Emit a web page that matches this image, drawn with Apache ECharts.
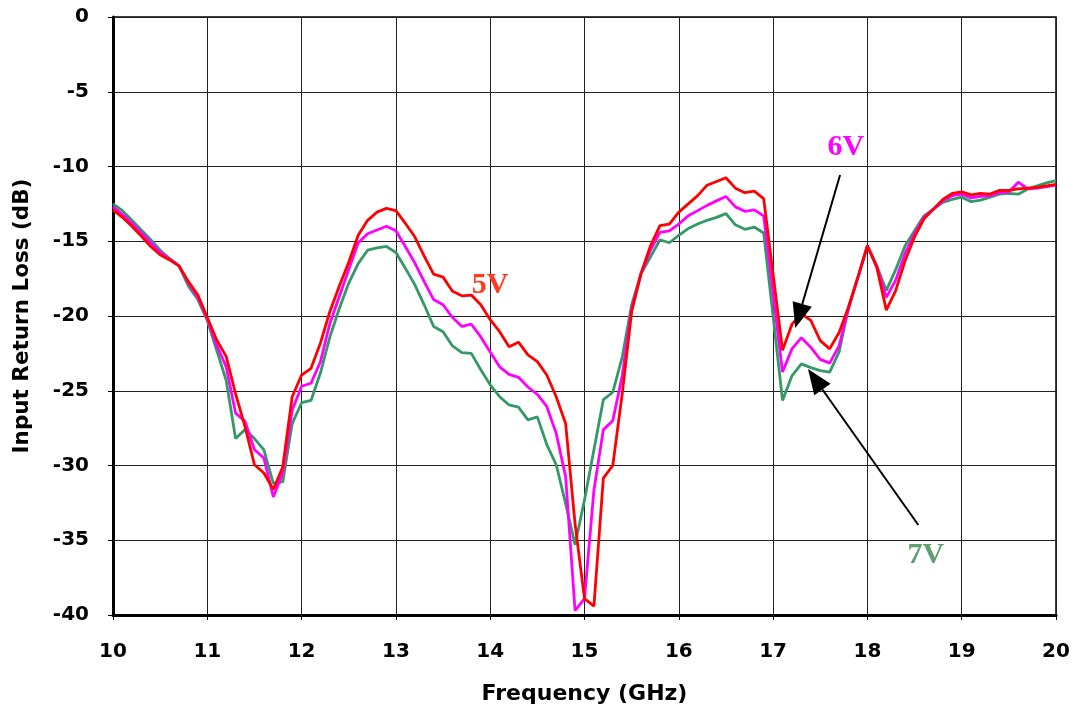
<!DOCTYPE html>
<html>
<head>
<meta charset="utf-8">
<script src="https://cdn.jsdelivr.net/npm/echarts@6/dist/echarts.min.js"></script>
<style>
html,body{margin:0;padding:0;background:#fff;}
#chart{width:1073px;height:713px;}
</style>
</head>
<body>
<div id="chart"></div>
<script>
const freq = [10.0,10.1,10.2,10.3,10.4,10.5,10.6,10.7,10.8,10.9,
11.0,11.1,11.2,11.3,11.4,11.5,11.6,11.7,11.8,11.9,
12.0,12.1,12.2,12.3,12.4,12.5,12.6,12.7,12.8,12.9,
13.0,13.1,13.2,13.3,13.4,13.5,13.6,13.7,13.8,13.9,
14.0,14.1,14.2,14.3,14.4,14.5,14.6,14.7,14.8,14.9,
15.0,15.1,15.2,15.3,15.4,15.5,15.6,15.7,15.8,15.9,
16.0,16.1,16.2,16.3,16.4,16.5,16.6,16.7,16.8,16.9,
17.0,17.1,17.2,17.3,17.4,17.5,17.6,17.7,17.8,17.9,
18.0,18.1,18.2,18.3,18.4,18.5,18.6,18.7,18.8,18.9,
19.0,19.1,19.2,19.3,19.4,19.5,19.6,19.7,19.8,19.9,20.0];

const rl5V = [-12.9,-13.4,-14.0,-14.65,-15.35,-15.9,-16.25,-16.65,-17.7,-18.6,
-20.1,-21.6,-22.7,-25.2,-27.4,-29.95,-30.5,-31.6,-30.1,-25.4,
-23.95,-23.5,-21.8,-19.7,-18.0,-16.4,-14.6,-13.6,-13.05,-12.8,
-12.95,-13.8,-14.7,-16.0,-17.2,-17.4,-18.35,-18.65,-18.6,-19.25,
-20.25,-21.05,-22.05,-21.75,-22.6,-23.05,-23.95,-25.4,-27.2,-33.9,
-38.9,-39.4,-30.85,-30.0,-25.2,-19.7,-17.15,-15.3,-13.95,-13.85,
-13.05,-12.5,-11.95,-11.25,-11.0,-10.75,-11.45,-11.75,-11.65,-12.15,
-17.2,-22.3,-20.55,-19.85,-20.3,-21.65,-22.2,-21.1,-19.4,-17.4,
-15.3,-16.75,-19.6,-18.3,-16.3,-14.7,-13.5,-12.85,-12.2,-11.8,
-11.7,-11.9,-11.8,-11.85,-11.6,-11.6,-11.5,-11.45,-11.4,-11.3,-11.2];

const rl6V = [-12.7,-13.2,-13.8,-14.45,-15.1,-15.75,-16.2,-16.65,-17.8,-18.75,
-20.2,-21.95,-23.4,-26.5,-27.05,-28.95,-29.5,-32.1,-30.5,-26.3,
-24.7,-24.5,-23.05,-20.5,-18.7,-16.9,-15.1,-14.5,-14.25,-14.0,
-14.3,-15.35,-16.45,-17.7,-18.9,-19.25,-20.1,-20.7,-20.55,-21.4,
-22.4,-23.4,-23.9,-24.1,-24.75,-25.25,-26.05,-27.85,-30.75,-39.7,
-38.9,-31.65,-27.6,-27.0,-24.0,-19.5,-17.15,-15.6,-14.4,-14.3,
-13.85,-13.3,-12.95,-12.6,-12.3,-12.0,-12.7,-13.0,-12.9,-13.3,
-18.5,-23.75,-22.2,-21.45,-22.1,-22.9,-23.15,-22.0,-19.5,-17.4,
-15.3,-16.7,-18.75,-17.6,-15.8,-14.5,-13.4,-12.85,-12.3,-11.95,
-11.85,-12.1,-12.0,-11.95,-11.75,-11.7,-11.05,-11.5,-11.45,-11.35,-11.25];

const rl7V = [-12.5,-12.95,-13.6,-14.25,-14.9,-15.6,-16.15,-16.65,-18.0,-18.9,
-20.3,-22.3,-24.3,-28.2,-27.6,-28.2,-28.95,-31.2,-31.1,-27.2,
-25.8,-25.65,-23.8,-21.4,-19.5,-17.8,-16.5,-15.6,-15.45,-15.35,
-15.75,-16.8,-17.9,-19.25,-20.7,-21.05,-22.0,-22.45,-22.5,-23.6,
-24.6,-25.4,-25.95,-26.1,-26.95,-26.75,-28.6,-29.95,-32.55,-35.3,
-32.3,-28.95,-25.6,-25.1,-22.75,-19.25,-17.15,-16.05,-14.9,-15.1,
-14.6,-14.15,-13.85,-13.6,-13.4,-13.15,-13.9,-14.2,-14.05,-14.45,
-20.0,-25.65,-24.0,-23.2,-23.45,-23.65,-23.75,-22.4,-19.4,-17.4,
-15.3,-16.65,-18.3,-16.9,-15.3,-14.3,-13.3,-12.85,-12.4,-12.2,
-12.05,-12.35,-12.25,-12.05,-11.85,-11.8,-11.85,-11.5,-11.3,-11.1,-10.95];

const seriesNames = ['5V','6V','7V'];
const seriesColors = ['#ff0000','#ff00ff','#339966'];
const labelColors = ['#ff3b1f','#ff00ff','#5f9f6b'];
const labelPos = [[14.0,-17.95],[17.77,-8.7],[18.62,-36.0]];
// annotation arrows: [tail, tip] in data coordinates
const arrow6V = [[17.71,-10.57],[17.235,-20.8]];
const arrow7V = [[18.54,-33.98],[17.37,-23.55]];
const xTitle = 'Frequency (GHz)';
const yTitle = 'Input Return Loss (dB)';

function pairs(vals){ return freq.map((f,i)=>[f, vals[i]]); }
const allVals = [rl5V, rl6V, rl7V];
const AXFONT = 'DejaVu Sans';

const chart = echarts.init(document.getElementById('chart'), null, {renderer:'canvas'});

const series = allVals.map((vals, k) => ({
  name: seriesNames[k],
  type: 'line',
  data: pairs(vals),
  showSymbol: false,
  symbol: 'none',
  z: 5 - k,
  lineStyle: {color: seriesColors[k], width: 2.8},
  itemStyle: {color: seriesColors[k]},
  markPoint: {
    silent: true,
    symbol: 'circle',
    symbolSize: 0,
    label: {
      show: true, position: 'inside',
      formatter: seriesNames[k],
      color: labelColors[k],
      fontFamily: 'Liberation Serif', fontWeight: 'bold', fontSize: 30
    },
    data: [{coord: labelPos[k]}]
  }
}));

chart.setOption({
  animation: false,
  backgroundColor: '#fff',
  grid: {left: 113, right: 17, top: 17, bottom: 98, show: true, borderColor: '#000', borderWidth: 1.5, backgroundColor: 'transparent'},
  xAxis: {
    type: 'value', min: 10, max: 20, interval: 1,
    name: xTitle, nameLocation: 'middle', nameGap: 68,
    nameTextStyle: {fontFamily: AXFONT, fontWeight: 'bold', fontSize: 22, color: '#000'},
    axisLine: {show: true, onZero: false, lineStyle: {color: '#000', width: 3}},
    axisTick: {show: true, length: 5, lineStyle: {color: '#000', width: 1}},
    axisLabel: {margin: 27, fontFamily: AXFONT, fontWeight: 'bold', fontSize: 20, color: '#000'},
    splitLine: {show: true, lineStyle: {color: '#222', width: 1}}
  },
  yAxis: {
    type: 'value', min: -40, max: 0, interval: 5,
    name: yTitle, nameLocation: 'middle', nameGap: 80, nameRotate: 90,
    nameTextStyle: {fontFamily: AXFONT, fontWeight: 'bold', fontSize: 21.5, color: '#000'},
    axisLine: {show: true, onZero: false, lineStyle: {color: '#000', width: 3}},
    axisTick: {show: true, length: 5, lineStyle: {color: '#000', width: 1}},
    axisLabel: {margin: 24, fontFamily: AXFONT, fontWeight: 'bold', fontSize: 20, color: '#000'},
    splitLine: {show: true, lineStyle: {color: '#222', width: 1}}
  },
  series: series
});

function arrowGraphics(arr){
  const a = chart.convertToPixel({gridIndex: 0}, arr[0]);
  const b = chart.convertToPixel({gridIndex: 0}, arr[1]);
  const dx = b[0]-a[0], dy = b[1]-a[1];
  const len = Math.sqrt(dx*dx+dy*dy);
  const ux = dx/len, uy = dy/len;
  const headLen = 25, headHalf = 10;
  const bx = b[0]-ux*headLen, by = b[1]-uy*headLen;
  const px = -uy, py = ux;
  return [
    {type:'line', silent:true, z:100, shape:{x1:a[0], y1:a[1], x2:bx, y2:by}, style:{stroke:'#000', lineWidth:2}},
    {type:'polygon', silent:true, z:100, shape:{points:[[b[0],b[1]],[bx+px*headHalf, by+py*headHalf],[bx-px*headHalf, by-py*headHalf]]}, style:{fill:'#000'}}
  ];
}
chart.setOption({graphic: [].concat(arrowGraphics(arrow6V), arrowGraphics(arrow7V))});
</script>
</body>
</html>
